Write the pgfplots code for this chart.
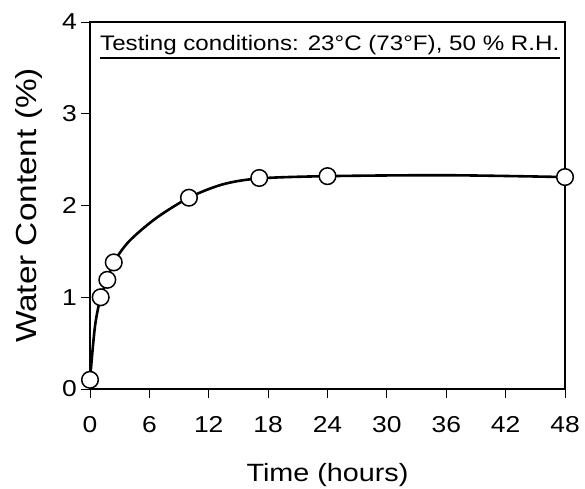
\documentclass[border=0pt]{standalone}
\usepackage{fontspec}
\setmainfont[FakeStretch=1.15]{Liberation Sans}
\usepackage{pgfplots}
\pgfplotsset{compat=1.18}

% curve (hours, %)
\pgfplotstableread{
t w
0 0.10
0.5 0.68
1.08 1.00
1.75 1.19
2.4 1.38
3.95 1.61
6.65 1.86
10 2.085
13.4 2.23
17.1 2.295
24 2.32
36 2.33
48 2.31
}\fitcurve

% measured points
\pgfplotstableread{
t w
0 0.10
1.08 1.00
1.75 1.19
2.4 1.38
10 2.085
17.1 2.30
24 2.32
48 2.31
}\measured

\begin{document}
\begin{tikzpicture}
\begin{axis}[
    name=ax,
    scale only axis,
    width=475pt, height=367pt,
    xmin=0, xmax=48, ymin=0, ymax=4,
    xtick={0,6,...,48}, ytick={0,1,2,3,4},
    tick pos=left,
    tick align=outside,
    major tick length=9pt,
    tick style={black, line width=0.8pt},
    axis line style={line width=2.8pt},
    /pgf/number format/assume math mode=true,
    ticklabel style={font=\fontsize{23}{23}\selectfont, inner sep=0pt},
    xticklabel style={anchor=north, yshift=-18pt},
    yticklabel style={anchor=east, xshift=-4pt},
    xlabel={Time (hours)},
    ylabel={Water Content (\%)},
    xlabel style={font=\fontsize{25}{25}\selectfont, at={(axis description cs:0.5,0)}, anchor=base, yshift=-92pt},
    ylabel style={font=\fontsize{29}{29}\selectfont, at={(axis description cs:-0.1274,0.5)}, anchor=center},
    clip=false,
]
\addplot[black, line width=2.6pt, smooth, tension=0.5] table[x=t, y=w] {\fitcurve};
\addplot[only marks, mark=*, mark size=8.3pt, mark options={fill=white, draw=black, line width=1.5pt}] table[x=t, y=w] {\measured};
\node[anchor=base west, inner sep=0pt, font=\fontsize{21}{21}\selectfont] (note)
    at (rel axis cs:0.021,0.921) {Testing conditions: 23°C (73°F), 50 \% R.H.};
\draw[line width=2.4pt] ([yshift=-7pt]note.base west) -- ([yshift=-7pt]note.base east);
\end{axis}
\pgfresetboundingbox
\path ([shift={(-90pt,-99pt)}]ax.south west) rectangle ([shift={(20pt,22pt)}]ax.north east);
\end{tikzpicture}
\end{document}
